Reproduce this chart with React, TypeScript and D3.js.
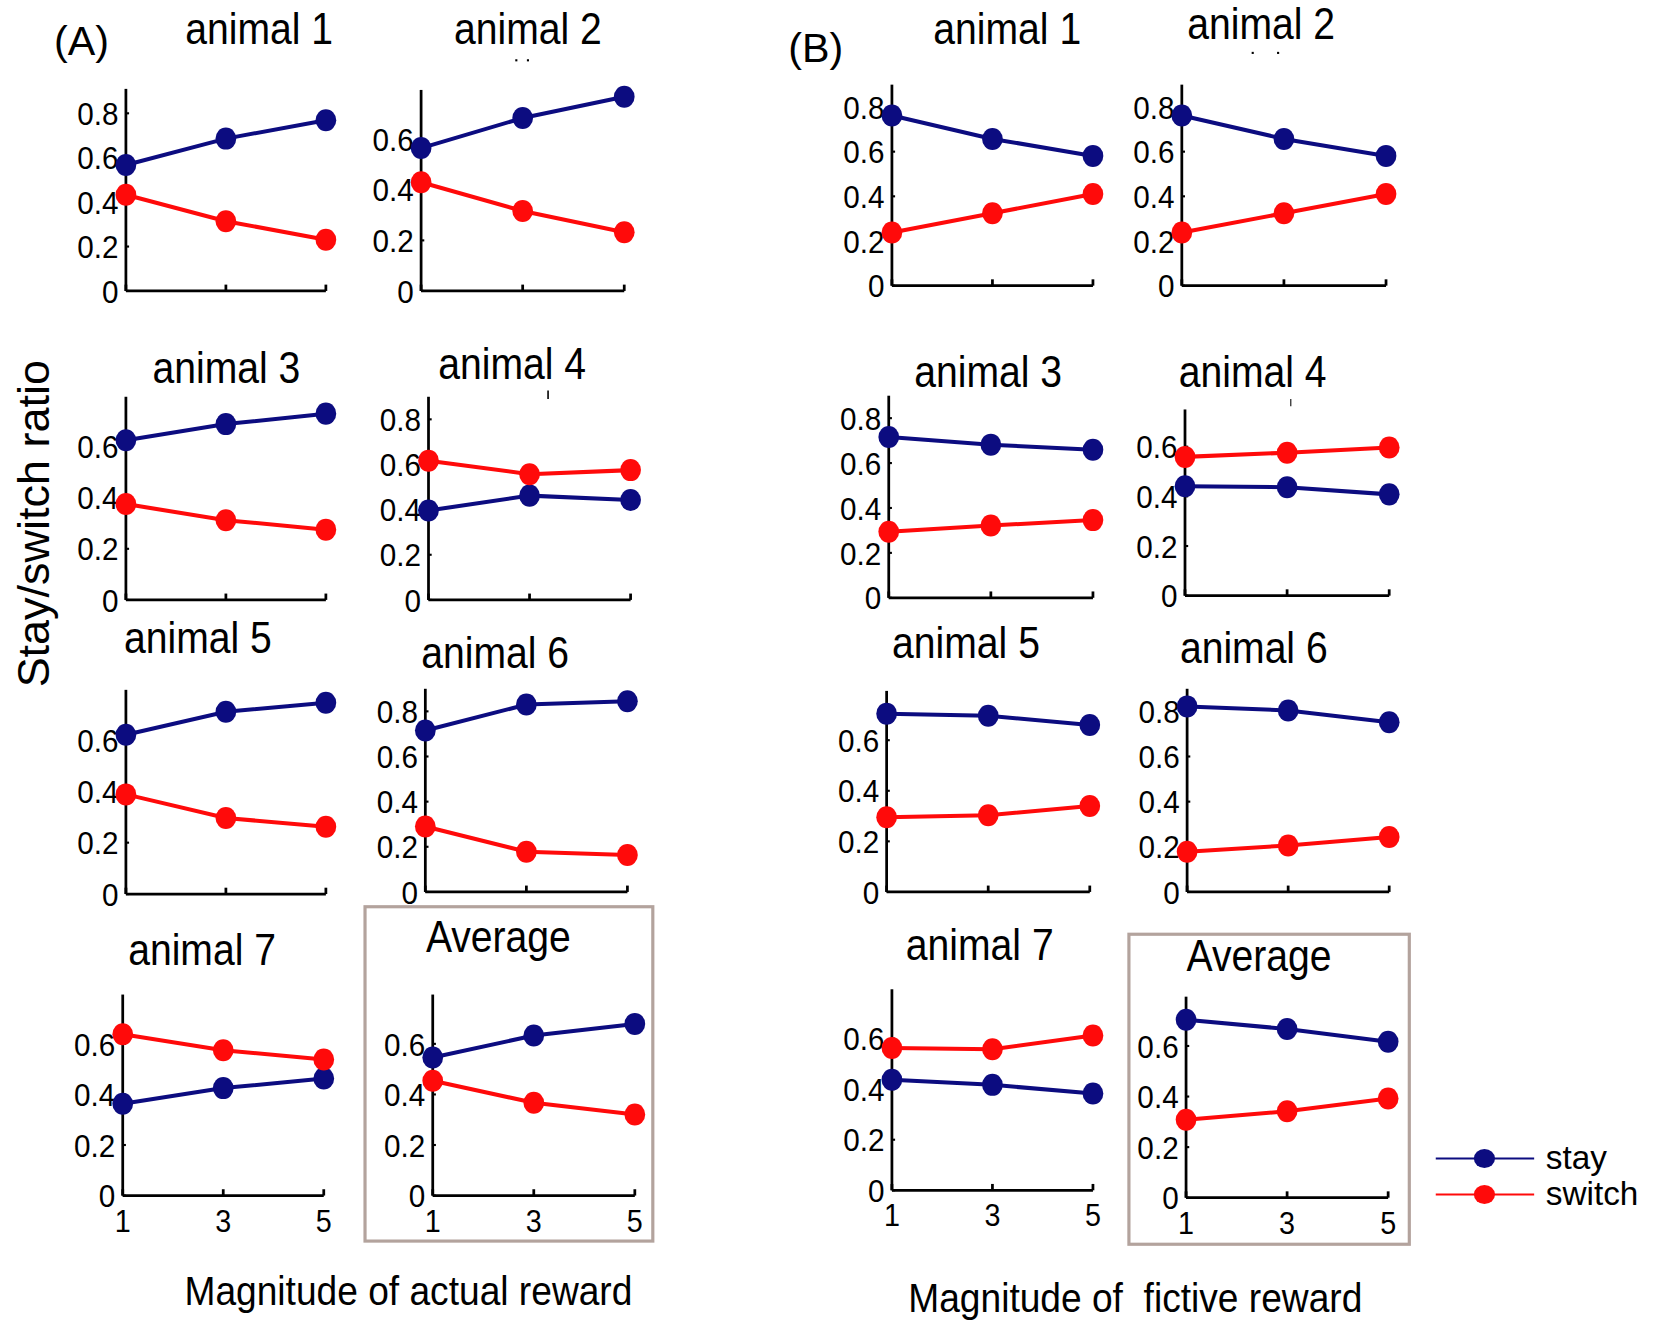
import React from 'react';
import * as d3 from 'd3';

// ---------- data ----------
const xValues = [1, 3, 5];
const xTickLabels = ['1', '3', '5'];
const seriesNames = ['stay', 'switch'];
const seriesColors = ['#0c0c80', '#ff0a0a'];

// (A) actual reward
const stayA1 = [0.567, 0.686, 0.769];
const switchA1 = [0.433, 0.314, 0.231];
const stayA2 = [0.565, 0.684, 0.768];
const switchA2 = [0.43, 0.316, 0.232];
const stayA3 = [0.625, 0.688, 0.729];
const switchA3 = [0.375, 0.312, 0.275];
const stayA4 = [0.396, 0.462, 0.443];
const switchA4 = [0.617, 0.557, 0.575];
const stayA5 = [0.62, 0.71, 0.745];
const switchA5 = [0.388, 0.296, 0.262];
const stayA6 = [0.715, 0.83, 0.845];
const switchA6 = [0.29, 0.178, 0.164];
const stayA7 = [0.363, 0.425, 0.463];
const switchA7 = [0.638, 0.575, 0.538];
const stayAAvg = [0.546, 0.633, 0.679];
const switchAAvg = [0.454, 0.367, 0.321];

// (B) fictive reward
const stayB1 = [0.762, 0.657, 0.581];
const switchB1 = [0.238, 0.324, 0.41];
const stayB2 = [0.762, 0.657, 0.581];
const switchB2 = [0.238, 0.324, 0.41];
const stayB3 = [0.716, 0.682, 0.659];
const switchB3 = [0.294, 0.322, 0.346];
const stayB4 = [0.441, 0.437, 0.408];
const switchB4 = [0.559, 0.576, 0.597];
const stayB5 = [0.705, 0.697, 0.66];
const switchB5 = [0.295, 0.303, 0.34];
const stayB6 = [0.822, 0.804, 0.752];
const switchB6 = [0.178, 0.206, 0.243];
const stayB7 = [0.4375, 0.417, 0.383];
const switchB7 = [0.5625, 0.558, 0.6125];
const stayBAvg = [0.704, 0.667, 0.617];
const switchBAvg = [0.308, 0.342, 0.392];

const panelTitles = ['animal 1', 'animal 2', 'animal 3', 'animal 4', 'animal 5', 'animal 6', 'animal 7', 'Average'];
const yMaxA = [0.91, 0.795, 0.795, 0.9, 0.795, 0.9, 0.795, 0.795];
const yMaxB = [0.9, 0.9, 0.9, 0.75, 0.795, 0.9, 0.795, 0.795];

const yLabel = 'Stay/switch ratio';
const xLabelA = 'Magnitude of actual reward';
const xLabelB = 'Magnitude of  fictive reward';

// ---------- layout (in 1568-wide design units, scaled to 1659) ----------
const K = 1659 / 1568;
// [x0, x1, yBottom, yTop, titleX, titleY]
const layoutA = [
  [119, 308, 275, 84, 245, 42],
  [398, 590, 275, 85, 499, 42],
  [119, 308, 567, 375, 214, 362],
  [405, 596, 567, 375, 484, 358],
  [119, 308, 845, 652, 187, 617],
  [402, 593, 843, 651, 468, 631],
  [116, 306, 1130, 940, 191, 912],
  [409, 600, 1130, 940, 471, 900],
];
const layoutB = [
  [843, 1033, 270, 80, 952, 42],
  [1117, 1310, 270, 80, 1192, 37],
  [840, 1033, 565, 374, 934, 366],
  [1120, 1313, 563, 387, 1184, 366],
  [838, 1030, 843, 653, 913, 622],
  [1122, 1313, 843, 651, 1185, 627],
  [843, 1033, 1125, 935, 926, 907],
  [1121, 1312, 1132, 942, 1190, 918],
];

const FONT = '"Liberation Sans", Arial, Helvetica, sans-serif';

type PanelProps = {
  title: string;
  stay: number[];
  sw: number[];
  lay: number[];
  ymax: number;
  showX: boolean;
};

function Panel({ title, stay, sw, lay, ymax, showX }: PanelProps) {
  const [x0, x1, yb, yt, tx, ty] = lay;
  const x = d3.scaleLinear().domain([1, 5]).range([x0, x1]);
  const y = d3.scaleLinear().domain([0, ymax]).range([yb, yt]);
  const yTicks = d3.range(0, ymax + 1e-9, 0.2).map((v) => Math.round(v * 10) / 10);
  const line = d3
    .line<number>()
    .x((_, i) => x(xValues[i]))
    .y((d) => y(d));
  const series = [stay, sw];
  return (
    <g>
      <text
        transform={`translate(${tx},${ty}) scale(0.88,1)`}
        textAnchor="middle"
        fontFamily={FONT}
        fontSize={42}
        fill="#000"
      >
        {title}
      </text>
      {/* axes */}
      <line x1={x0} x2={x0} y1={yt} y2={yb} stroke="#000" strokeWidth={2.6} />
      <line x1={x0} x2={x1} y1={yb} y2={yb} stroke="#000" strokeWidth={2.6} />
      {yTicks.map((v) => (
        <g key={'yt' + v}>
          <line x1={x0} x2={x0 + 3} y1={y(v)} y2={y(v)} stroke="#000" strokeWidth={2} />
          <text
            transform={`translate(${x0 - 7},${y(v) + 11}) scale(0.92,1)`}
            textAnchor="end"
            fontFamily={FONT}
            fontSize={30.5}
            fill="#000"
          >
            {v === 0 ? '0' : v.toFixed(1)}
          </text>
        </g>
      ))}
      {xValues.map((v, i) => (
        <g key={'xt' + v}>
          <line x1={x(v)} x2={x(v)} y1={yb} y2={yb - 6} stroke="#000" strokeWidth={2.6} />
          {showX && (
            <text
              transform={`translate(${x(v)},${yb + 34}) scale(0.89,1)`}
              textAnchor="middle"
              fontFamily={FONT}
              fontSize={30.5}
              fill="#000"
            >
              {xTickLabels[i]}
            </text>
          )}
        </g>
      ))}
      {series.map((s, si) => (
        <g key={'s' + si}>
          <path d={line(s) || ''} fill="none" stroke={seriesColors[si]} strokeWidth={3.8} />
          {s.map((d, i) => (
            <ellipse key={i} cx={x(xValues[i])} cy={y(d)} rx={9.8} ry={10.4} fill={seriesColors[si]} />
          ))}
        </g>
      ))}
    </g>
  );
}

export default function App() {
  const stayA = [stayA1, stayA2, stayA3, stayA4, stayA5, stayA6, stayA7, stayAAvg];
  const switchA = [switchA1, switchA2, switchA3, switchA4, switchA5, switchA6, switchA7, switchAAvg];
  const stayB = [stayB1, stayB2, stayB3, stayB4, stayB5, stayB6, stayB7, stayBAvg];
  const switchB = [switchB1, switchB2, switchB3, switchB4, switchB5, switchB6, switchB7, switchBAvg];

  return (
    <svg
      width={1659}
      height={1328}
      style={{ position: 'absolute', left: 0, top: 0, background: '#fff' }}
    >
      <rect width={1659} height={1328} fill="#fff" />
      <g transform={`scale(${K})`}>
        {/* Average boxes */}
        <rect x={345} y={857} width={272} height={316} fill="none" stroke="#b3a39d" strokeWidth={3} />
        <rect x={1067} y={883} width={265} height={293} fill="none" stroke="#b3a39d" strokeWidth={3} />

        {panelTitles.map((t, i) => (
          <Panel
            key={'A' + i}
            title={t}
            stay={stayA[i]}
            sw={switchA[i]}
            lay={layoutA[i]}
            ymax={yMaxA[i]}
            showX={i >= 6}
          />
        ))}
        {panelTitles.map((t, i) => (
          <Panel
            key={'B' + i}
            title={t}
            stay={stayB[i]}
            sw={switchB[i]}
            lay={layoutB[i]}
            ymax={yMaxB[i]}
            showX={i >= 6}
          />
        ))}

        {/* panel letters */}
        <text x={51} y={52} fontFamily={FONT} fontSize={39} fill="#000">
          (A)
        </text>
        <text x={745} y={59} fontFamily={FONT} fontSize={39} fill="#000">
          (B)
        </text>

        {/* small stray marks from the original */}
        <line x1={487} x2={489} y1={57} y2={57} stroke="#000" strokeWidth={2} />
        <line x1={498} x2={500} y1={57} y2={57} stroke="#000" strokeWidth={2} />
        <line x1={1183} x2={1185} y1={50} y2={50} stroke="#000" strokeWidth={2} />
        <line x1={1207} x2={1209} y1={50} y2={50} stroke="#000" strokeWidth={2} />
        <line x1={518} x2={518} y1={369} y2={377} stroke="#000" strokeWidth={1.5} />
        <line x1={1220} x2={1220} y1={377} y2={384} stroke="#000" strokeWidth={1} />

        {/* y label */}
        <text
          transform="translate(46,495) rotate(-90)"
          textAnchor="middle"
          fontFamily={FONT}
          fontSize={42.5}
          fill="#000"
        >
          {yLabel}
        </text>

        {/* x labels */}
        <text
          transform="translate(386,1233) scale(0.9,1)"
          textAnchor="middle"
          fontFamily={FONT}
          fontSize={39}
          fill="#000"
        >
          {xLabelA}
        </text>
        <text
          transform="translate(1073,1240) scale(0.9,1)"
          textAnchor="middle"
          fontFamily={FONT}
          fontSize={39}
          fill="#000"
          style={{ whiteSpace: 'pre' }}
        >
          {xLabelB}
        </text>

        {/* legend */}
        {seriesNames.map((n, i) => {
          const ly = 1095 + i * 34;
          return (
            <g key={n}>
              <line x1={1357} x2={1450} y1={ly} y2={ly} stroke={seriesColors[i]} strokeWidth={2} />
              <ellipse cx={1403} cy={ly} rx={10} ry={9} fill={seriesColors[i]} />
              <text
                transform={`translate(1461,${ly + 10})`}
                fontFamily={FONT}
                fontSize={31.5}
                fill="#000"
              >
                {n}
              </text>
            </g>
          );
        })}
      </g>
    </svg>
  );
}
